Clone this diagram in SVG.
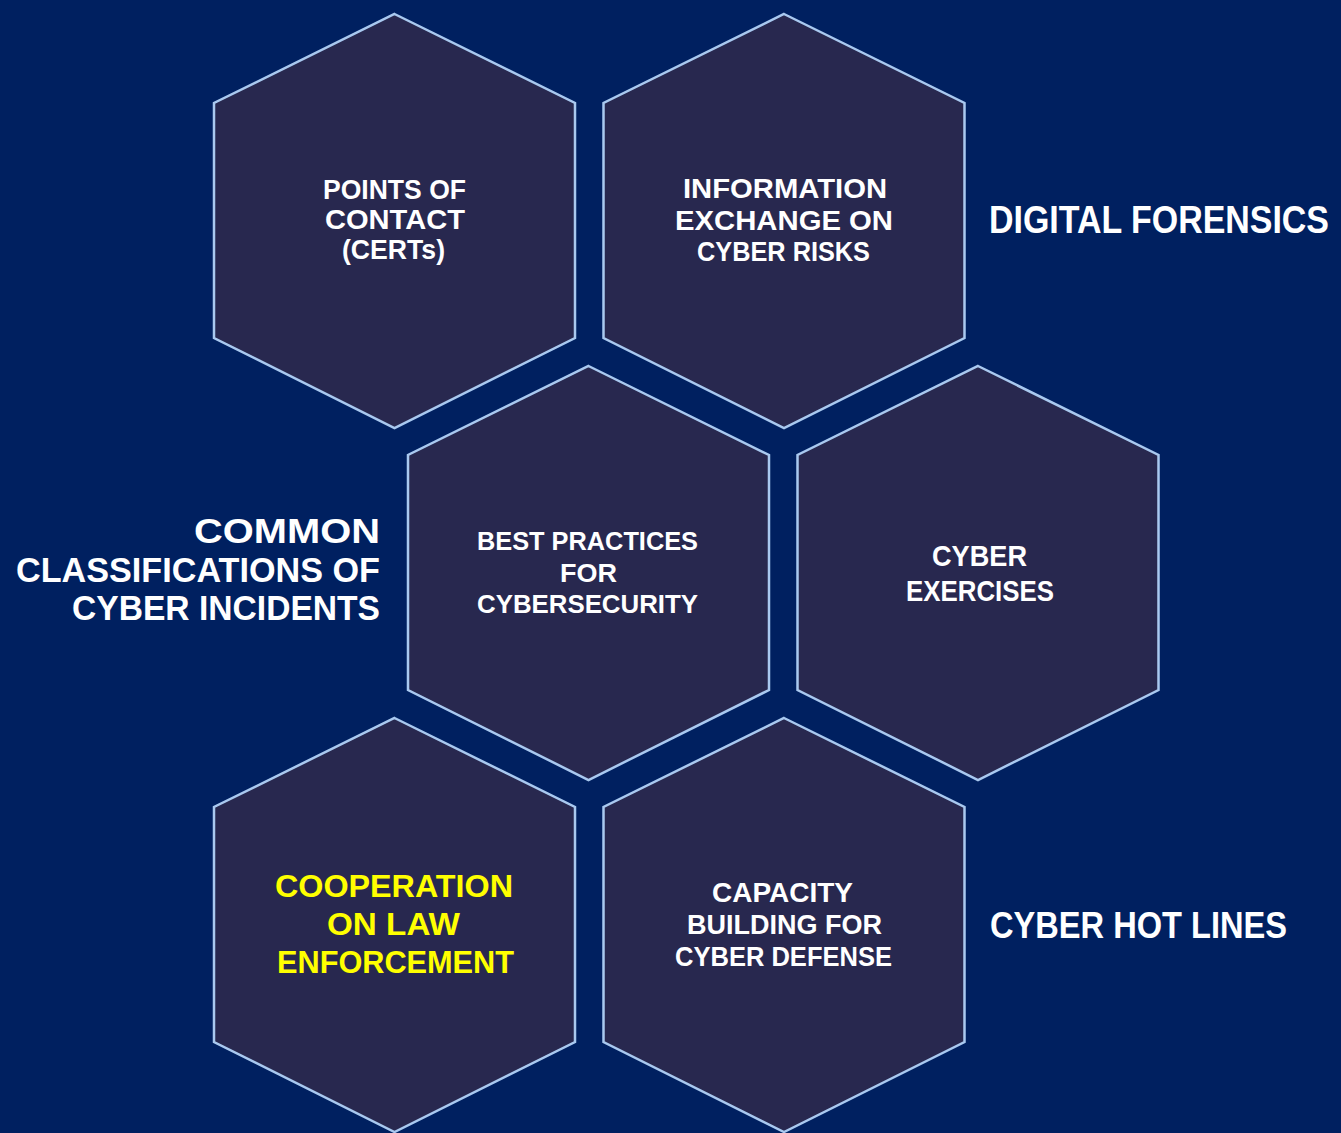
<svg xmlns="http://www.w3.org/2000/svg" width="1341" height="1133" viewBox="0 0 1341 1133">
<style>
.hex{fill:#28284F;stroke:#A9C9F0;stroke-width:2.5}
.t{font-family:"Liberation Sans",Arial,sans-serif;font-weight:bold;fill:#FFFFFF}
.y{fill:#FFFF00}
</style>
<defs>
<polygon id="h" points="0,0 180.5,89 180.5,324 0,414 -180.5,324 -180.5,89"/>
</defs>
<rect width="1341" height="1133" fill="#002060"/>
<g id="connectors"/>
<g id="n1">
<use href="#h" class="hex" x="394.5" y="14"/>
<text class="t" font-size="27"><tspan x="323" y="199" textLength="143" lengthAdjust="spacingAndGlyphs">POINTS OF</tspan><tspan x="325" y="229" textLength="140" lengthAdjust="spacingAndGlyphs">CONTACT</tspan><tspan x="342" y="259" textLength="103" lengthAdjust="spacingAndGlyphs">(CERTs)</tspan></text>
</g>
<g id="n2">
<use href="#h" class="hex" x="784" y="14"/>
<text class="t" font-size="28"><tspan x="683" y="198" textLength="204" lengthAdjust="spacingAndGlyphs">INFORMATION</tspan><tspan x="675" y="230" textLength="218" lengthAdjust="spacingAndGlyphs">EXCHANGE ON</tspan><tspan x="697" y="261" textLength="173" lengthAdjust="spacingAndGlyphs">CYBER RISKS</tspan></text>
</g>
<g id="n3">
<use href="#h" class="hex" x="588.5" y="366"/>
<text class="t" font-size="25"><tspan x="477" y="550" textLength="221" lengthAdjust="spacingAndGlyphs">BEST PRACTICES</tspan><tspan x="560" y="582" textLength="57" lengthAdjust="spacingAndGlyphs">FOR</tspan><tspan x="477" y="613" textLength="221" lengthAdjust="spacingAndGlyphs">CYBERSECURITY</tspan></text>
</g>
<g id="n4">
<use href="#h" class="hex" x="978" y="366"/>
<text class="t" font-size="30"><tspan x="932" y="566" textLength="95" lengthAdjust="spacingAndGlyphs">CYBER</tspan><tspan x="906" y="601" textLength="148" lengthAdjust="spacingAndGlyphs">EXERCISES</tspan></text>
</g>
<g id="n5">
<use href="#h" class="hex" x="394.5" y="718"/>
<text class="t y" font-size="31"><tspan x="275" y="897" textLength="238" lengthAdjust="spacingAndGlyphs">COOPERATION</tspan><tspan x="327" y="935" textLength="133" lengthAdjust="spacingAndGlyphs">ON LAW</tspan><tspan x="277" y="973" textLength="237" lengthAdjust="spacingAndGlyphs">ENFORCEMENT</tspan></text>
</g>
<g id="n6">
<use href="#h" class="hex" x="784" y="718"/>
<text class="t" font-size="27"><tspan x="712" y="902" textLength="141" lengthAdjust="spacingAndGlyphs">CAPACITY</tspan><tspan x="687" y="934" textLength="195" lengthAdjust="spacingAndGlyphs">BUILDING FOR</tspan><tspan x="675" y="966" textLength="217" lengthAdjust="spacingAndGlyphs">CYBER DEFENSE</tspan></text>
</g>
<g id="l1" transform="translate(989,233) scale(1,1.15)">
<text class="t" font-size="33" x="0" y="0" textLength="340" lengthAdjust="spacingAndGlyphs">DIGITAL FORENSICS</text>
</g>
<g id="l2">
<text class="t" font-size="35"><tspan x="194" y="543" textLength="186" lengthAdjust="spacingAndGlyphs">COMMON</tspan><tspan x="16" y="582" textLength="364" lengthAdjust="spacingAndGlyphs">CLASSIFICATIONS OF</tspan><tspan x="72" y="620" textLength="308" lengthAdjust="spacingAndGlyphs">CYBER INCIDENTS</tspan></text>
</g>
<g id="l3">
<text class="t" font-size="37" x="990" y="938" textLength="297" lengthAdjust="spacingAndGlyphs">CYBER HOT LINES</text>
</g>
</svg>
